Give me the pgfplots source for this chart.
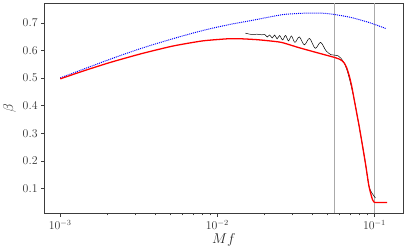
\documentclass[border=0pt]{standalone}
\usepackage{pgfplots}
\pgfplotsset{compat=1.18}
\definecolor{axgray}{RGB}{60,60,60}
\definecolor{vgray}{RGB}{170,170,170}
\begin{document}
\begin{tikzpicture}
\begin{axis}[
  width=363pt, height=213pt, scale only axis,
  xmode=log,
  xmin=7.94e-4, xmax=0.152,
  ymin=0.01, ymax=0.7725,
  ytick={0.1,0.2,0.3,0.4,0.5,0.6,0.7},
  yticklabel style={/pgf/number format/fixed,/pgf/number format/precision=1},
  xtick={0.001,0.01,0.1},
  tick align=outside,
  xtick pos=bottom, ytick pos=left,
  major tick length=3.5pt, minor tick length=2pt,
  axis line style={axgray, line width=0.8pt},
  every tick/.style={axgray, line width=0.6pt},
  tick label style={font=\fontsize{11.5}{13}\selectfont, text=black!80},
  xlabel={$Mf$}, ylabel={$\beta$},
  label style={font=\fontsize{14}{16}\selectfont, text=black!85},
  xlabel style={yshift=3pt},
  ylabel style={yshift=0pt},
  clip=true,
]
% vertical reference lines
\addplot [vgray, line width=1pt] coordinates {(0.0558,0.01) (0.0558,0.7725)};
\addplot [vgray, line width=1pt] coordinates {(0.1,0.01) (0.1,0.7725)};
% blue dotted
\addplot [blue, densely dotted, line width=1pt, smooth, tension=0.5] coordinates {
(0.001,0.501) (0.002084,0.5689) (0.003279,0.608) (0.005212,0.6429) (0.008047,0.6725)
(0.011846,0.6939) (0.0166,0.7093) (0.025637,0.7296) (0.0331,0.7345) (0.03958,0.7360)
(0.0479,0.7350) (0.055784,0.7306) (0.07079,0.7200) (0.09441,0.7000) (0.119,0.679)
};
% black wiggly
\addplot [black, line width=0.5pt, smooth, tension=0.55] coordinates {
(0.01507,0.6629) (0.01660,0.6582) (0.01786,0.6593) (0.01920,0.6571) (0.02005,0.6582)
(0.020778,0.6493) (0.021544,0.6564) (0.022336,0.6457) (0.023158,0.6564) (0.024011,0.6421)
(0.024895,0.6546) (0.026019,0.6386) (0.027164,0.6546) (0.028364,0.6350) (0.029623,0.6529)
(0.031170,0.6296) (0.033266,0.6493) (0.035764,0.6207) (0.038618,0.6439) (0.041948,0.6082)
(0.045419,0.6296) (0.049170,0.5993) (0.052885,0.5850) (0.056030,0.5832) (0.058525,0.5814)
(0.061108,0.5725) (0.063826,0.5564) (0.066174,0.5368) (0.06950,0.4950) (0.07409,0.4261)
(0.07784,0.3607) (0.08368,0.2593) (0.08779,0.1879) (0.09209,0.1107) (0.09650,0.0830)
(0.1014,0.0660)
};
% red
\addplot [red, line width=1.3pt, smooth, tension=0.35] coordinates {
(0.001,0.4975) (0.001436,0.5279) (0.002084,0.5571) (0.003279,0.5886) (0.005212,0.6164)
(0.008047,0.6350) (0.011846,0.6429) (0.014363,0.6425) (0.017846,0.6395) (0.021138,0.6355)
(0.025637,0.6295) (0.032654,0.6114) (0.042560,0.5932) (0.052885,0.5786) (0.055784,0.5750)
(0.059363,0.5696) (0.062000,0.5636) (0.064300,0.5546) (0.066660,0.5368) (0.069120,0.5082)
(0.071660,0.4707) (0.074090,0.4261) (0.077836,0.3607) (0.079670,0.3307) (0.083680,0.2593)
(0.087791,0.1879) (0.092086,0.1107) (0.095060,0.0779) (0.097140,0.0600) (0.099280,0.0511)
(0.10146,0.0493) (0.12025,0.0490)
};
\end{axis}
\path ([xshift=-40pt,yshift=-36pt]current axis.south west) ([xshift=4pt,yshift=3pt]current axis.north east);
\end{tikzpicture}
\end{document}
